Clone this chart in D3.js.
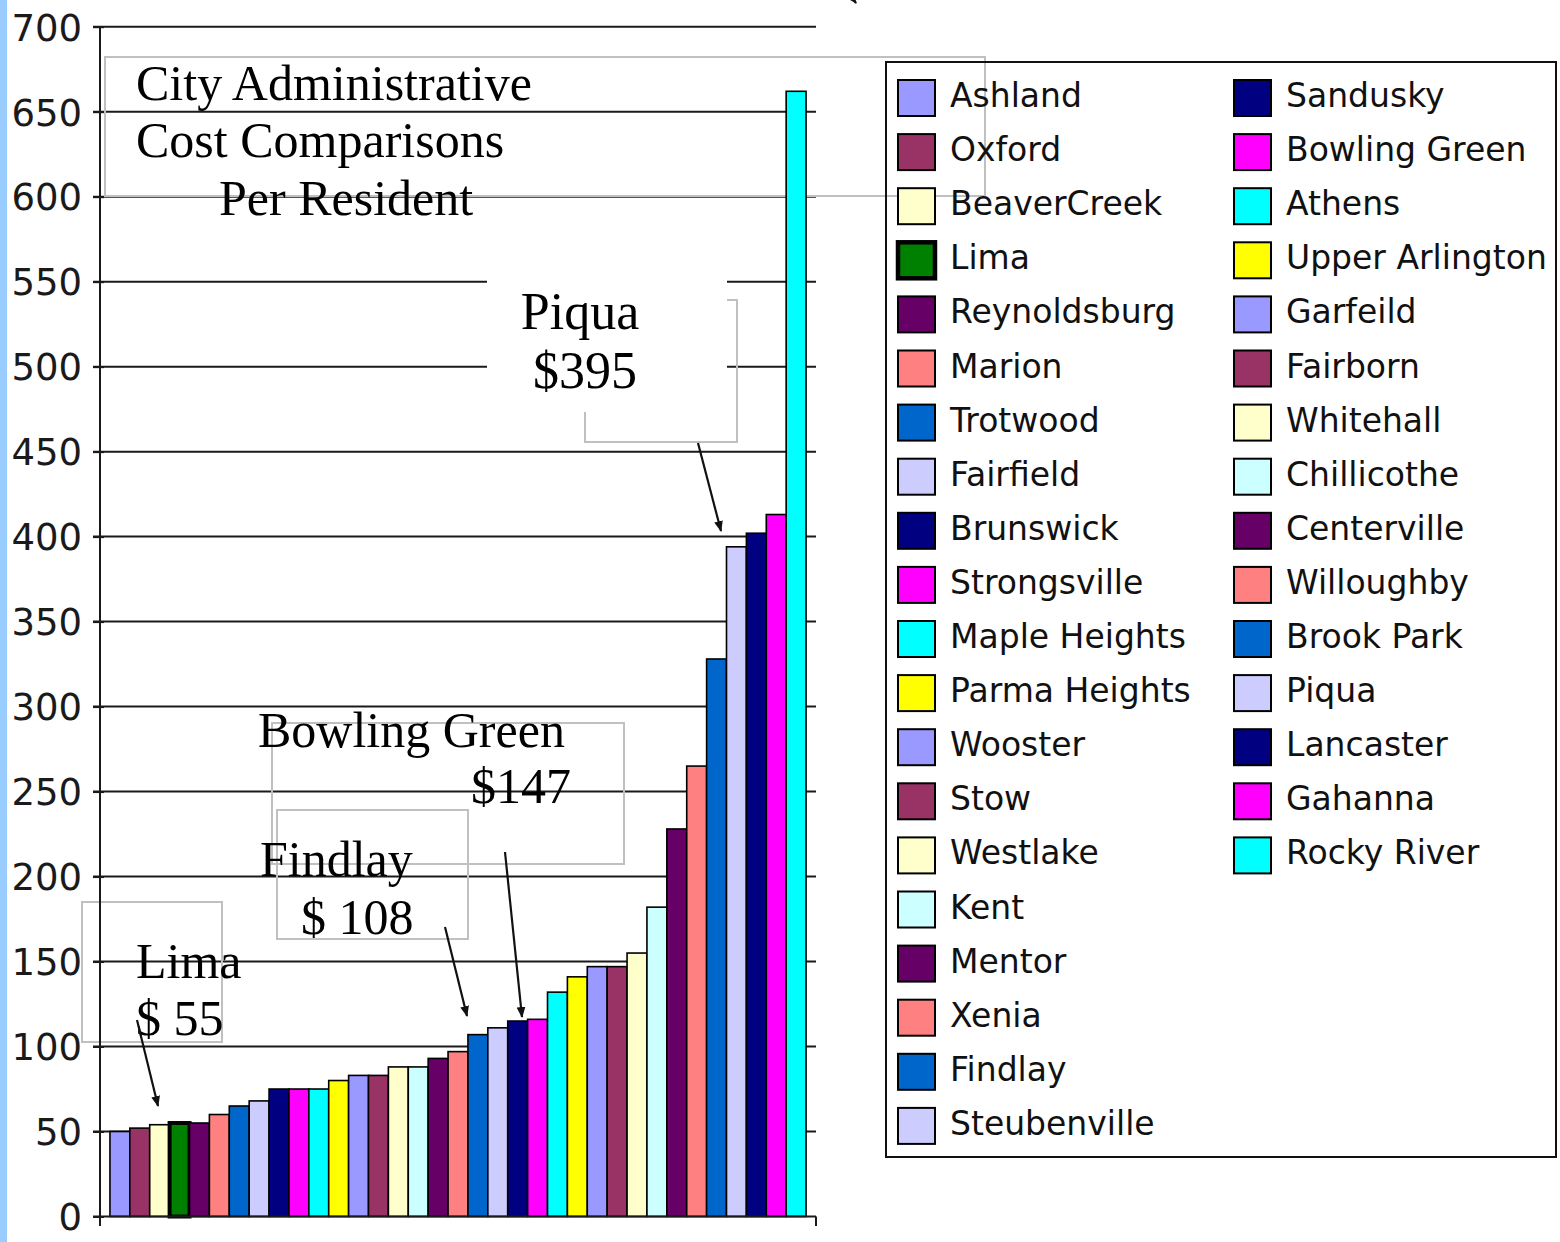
<!DOCTYPE html>
<html>
<head>
<meta charset="utf-8">
<script src="https://cdn.jsdelivr.net/npm/d3@7"></script>
<style>
  html, body { margin: 0; padding: 0; background: #fff; }
  svg { display: block; }
</style>
</head>
<body>
<svg id="chart" width="1560" height="1242"></svg>
<script>
// ---- data ----
const cities = ["Ashland","Oxford","BeaverCreek","Lima","Reynoldsburg","Marion","Trotwood","Fairfield",
  "Brunswick","Strongsville","Maple Heights","Parma Heights","Wooster","Stow","Westlake","Kent",
  "Mentor","Xenia","Findlay","Steubenville","Sandusky","Bowling Green","Athens","Upper Arlington",
  "Garfeild","Fairborn","Whitehall","Chillicothe","Centerville","Willoughby","Brook Park","Piqua",
  "Lancaster","Gahanna","Rocky River"];
const costs = [50,52,54,55,55,60,65,68,75,75,75,80,83,83,88,88,93,97,107,111,115,116,132,141,147,147,155,182,228,265,328,394,402,413,662];
const palette = ["#9999FF","#993366","#FFFFCC","#008000","#660066","#FF8080","#0066CC","#CCCCFF",
  "#000080","#FF00FF","#00FFFF","#FFFF00","#9999FF","#993366","#FFFFCC","#CCFFFF",
  "#660066","#FF8080","#0066CC","#CCCCFF","#000080","#FF00FF","#00FFFF","#FFFF00",
  "#9999FF","#993366","#FFFFCC","#CCFFFF","#660066","#FF8080","#0066CC","#CCCCFF",
  "#000080","#FF00FF","#00FFFF"];
const yTicks = [0,50,100,150,200,250,300,350,400,450,500,550,600,650,700];
const titleLines = ["City Administrative","Cost Comparisons","Per Resident"];
const highlighted = "Lima";

// ---- scales ----
const svg = d3.select("#chart");
const x = d3.scaleBand().domain(cities).range([100, 816]).paddingInner(0).paddingOuter(0.5);
const y = d3.scaleLinear().domain([0, 700]).range([1216.5, 26.7]);
const color = d3.scaleOrdinal().domain(cities).range(palette);

// left blue strip
svg.append("rect").attr("x", 0).attr("y", 0).attr("width", 7).attr("height", 1242).attr("fill", "#99CCFF");

// arrow marker
const defs = svg.append("defs");
defs.append("marker").attr("id", "ah").attr("viewBox", "0 0 10 10").attr("refX", 9).attr("refY", 5)
  .attr("markerWidth", 5).attr("markerHeight", 5).attr("orient", "auto")
  .append("path").attr("d", "M0,1 L10,5 L0,9 Z").attr("fill", "#111");

// gridlines
const grid = svg.append("g");
grid.selectAll("line").data(yTicks.filter(d => d > 0)).join("line")
  .attr("x1", 93).attr("x2", 816)
  .attr("y1", d => y(d)).attr("y2", d => y(d))
  .attr("stroke", "#1a1a1a").attr("stroke-width", 2);

// title box
svg.append("rect").attr("x", 105).attr("y", 57).attr("width", 880).attr("height", 139)
  .attr("fill", "none").attr("stroke", "#c0c0c0").attr("stroke-width", 2);
const titlePos = [[136, 100], [136, 157], [219, 215]];
svg.append("g").selectAll("text").data(titleLines).join("text")
  .attr("x", (d, i) => titlePos[i][0]).attr("y", (d, i) => titlePos[i][1])
  .attr("font-family", "'Liberation Serif', 'Times New Roman', serif").attr("font-size", 50)
  .attr("fill", "#000").text(d => d);

// bars
svg.append("g").selectAll("rect").data(cities).join("rect")
  .attr("x", d => x(d)).attr("width", x.bandwidth())
  .attr("y", (d, i) => y(costs[i])).attr("height", (d, i) => y(0) - y(costs[i]))
  .attr("fill", d => color(d))
  .attr("stroke", "#000")
  .attr("stroke-width", d => d === highlighted ? 4 : 1.6);

// Piqua callout
svg.append("rect").attr("x", 585).attr("y", 300).attr("width", 152).attr("height", 142)
  .attr("fill", "none").attr("stroke", "#c0c0c0").attr("stroke-width", 2);
svg.append("rect").attr("x", 487).attr("y", 268).attr("width", 240).attr("height", 144).attr("fill", "#fff");
const serif = "'Liberation Serif', 'Times New Roman', serif";
svg.append("text").attr("x", 580).attr("y", 329).attr("text-anchor", "middle")
  .attr("font-family", serif).attr("font-size", 52).text("Piqua");
svg.append("text").attr("x", 585).attr("y", 388).attr("text-anchor", "middle")
  .attr("font-family", serif).attr("font-size", 52).text("$395");

// other callout boxes
const boxes = [[272, 723, 352, 141], [277, 810, 191, 129], [82, 902, 140, 140]];
svg.append("g").selectAll("rect").data(boxes).join("rect")
  .attr("x", d => d[0]).attr("y", d => d[1]).attr("width", d => d[2]).attr("height", d => d[3])
  .attr("fill", "none").attr("stroke", "#c0c0c0").attr("stroke-width", 2);

const labels = [
  ["Bowling Green", 258, 747], ["$147", 471, 803],
  ["Findlay", 260, 876], ["$ 108", 301, 934],
  ["Lima", 136, 978], ["$ 55", 136, 1035]
];
svg.append("g").selectAll("text").data(labels).join("text")
  .attr("x", d => d[1]).attr("y", d => d[2])
  .attr("font-family", serif).attr("font-size", 50).attr("fill", "#000").text(d => d[0]);

// arrows
const arrows = [[698, 443, 721, 531], [505, 852, 522, 1017], [445, 927, 467, 1016], [137, 1020, 158, 1106]];
svg.append("g").selectAll("line").data(arrows).join("line")
  .attr("x1", d => d[0]).attr("y1", d => d[1]).attr("x2", d => d[2]).attr("y2", d => d[3])
  .attr("stroke", "#111").attr("stroke-width", 2.2).attr("marker-end", "url(#ah)");
svg.append("line").attr("x1", 849).attr("y1", -6).attr("x2", 856).attr("y2", 3)
  .attr("stroke", "#111").attr("stroke-width", 2.2).attr("marker-end", "url(#ah)");

// y axis
const yAxis = d3.axisLeft(y).tickValues(yTicks).tickSize(7).tickPadding(11);
const ax = svg.append("g").attr("transform", "translate(100,0)").call(yAxis);
ax.select(".domain").remove();
ax.selectAll(".tick line").attr("x2", -7).attr("x1", 4).attr("stroke", "#1a1a1a").attr("stroke-width", 2);
ax.selectAll(".tick text").attr("font-family", "'DejaVu Sans', Verdana, sans-serif")
  .attr("font-size", 37).attr("fill", "#1a1a1a").attr("x", -18).attr("dy", "0.36em");
svg.append("line").attr("x1", 100).attr("x2", 100).attr("y1", y(700)).attr("y2", 1226)
  .attr("stroke", "#1a1a1a").attr("stroke-width", 2);
// x baseline
svg.append("line").attr("x1", 93).attr("x2", 816).attr("y1", y(0)).attr("y2", y(0))
  .attr("stroke", "#1a1a1a").attr("stroke-width", 2);
svg.append("line").attr("x1", 816).attr("x2", 816).attr("y1", y(0)).attr("y2", 1226)
  .attr("stroke", "#1a1a1a").attr("stroke-width", 2);

// legend
const lg = svg.append("g");
lg.append("rect").attr("x", 886).attr("y", 62).attr("width", 670).attr("height", 1095)
  .attr("fill", "none").attr("stroke", "#111").attr("stroke-width", 2);
const perCol = 20;
const item = lg.selectAll("g.item").data(cities).join("g").attr("class", "item")
  .attr("transform", (d, i) => {
    const col = Math.floor(i / perCol), row = i % perCol;
    return `translate(${col === 0 ? 898 : 1234},${98 + row * 54.1})`;
  });
item.append("rect").attr("x", 0).attr("y", -18).attr("width", 37).attr("height", 36)
  .attr("fill", d => color(d)).attr("stroke", "#000")
  .attr("stroke-width", d => d === highlighted ? 4.5 : 2);
item.append("text").attr("x", 52).attr("y", 9)
  .attr("font-family", "'DejaVu Sans', Verdana, sans-serif").attr("font-size", 33)
  .attr("fill", "#111").text(d => d);
</script>
</body>
</html>
